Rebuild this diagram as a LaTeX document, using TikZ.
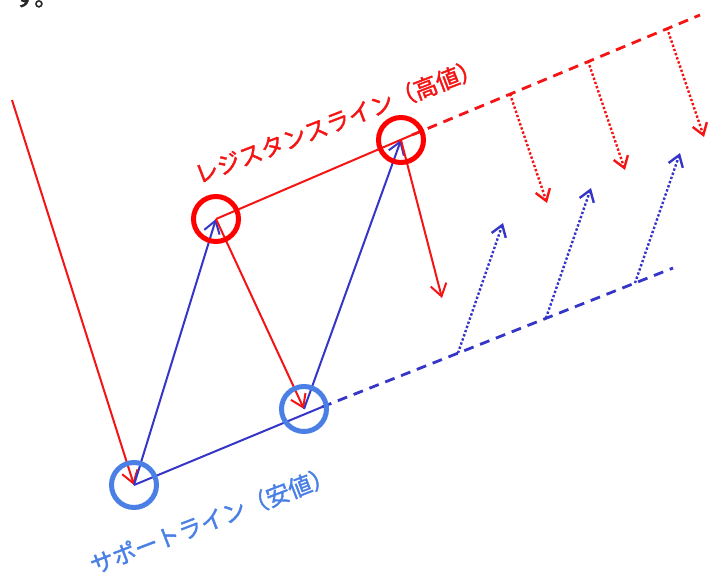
\documentclass[tikz,border=0pt]{standalone}
\usepackage{fontspec}
\newfontfamily\jpfont[FakeBold=1.6]{Noto Sans CJK JP}
\usetikzlibrary{arrows.meta, positioning, calc}
\definecolor{resred}{HTML}{F41414}
\definecolor{supblue}{HTML}{3535C8}
\definecolor{ringblue}{HTML}{4A80E6}

\begin{document}
\begin{tikzpicture}[
    x=1pt, y=-1pt,
    font=\jpfont\fontsize{23.5}{27}\selectfont,
    hiring/.style={circle, draw=red, line width=5pt, minimum size=45pt, inner sep=0pt},
    loring/.style={circle, draw=ringblue, line width=5pt, minimum size=45pt, inner sep=0pt},
    move/.style={-{Straight Barb[length=12pt, width=16pt]}, line width=2pt},
    trend/.style={line width=2pt},
    proj/.style={line width=2.8pt, dash pattern=on 10pt off 7pt},
    hint/.style={-{Straight Barb[length=11pt, width=15pt]}, line width=2.4pt, dotted}
]
\useasboundingbox (0,0) rectangle (711,576);
\clip (0,0) rectangle (711,576);

% Leftover text from the page above
\node[anchor=base west, text=black!85, inner sep=0pt] (prev) at (13,6) {す。};

% Turning points
\coordinate (start) at (12,100);
\coordinate (l1) at (134,485);
\coordinate (h1) at (216,219);
\coordinate (l2) at (304,409);
\coordinate (h2) at (401,140);
\coordinate (drop) at (442,298);

% Line ends
\coordinate (r1) at (412,135);
\coordinate (r2) at (700,15);
\coordinate (s1) at (322,407);
\coordinate (s2) at (673,268);

% Resistance and support lines
\draw[trend, resred] (h1) -- (r1);
\draw[proj, resred] (r1) -- (r2);
\draw[trend, supblue] (l1) -- (s1);
\draw[proj, supblue] (s1) -- (s2);

% Price moves
\draw[move, resred] (start) -- (l1);
\draw[move, supblue] (l1) -- (h1);
\draw[move, resred] (h1) -- (l2);
\draw[move, supblue] (l2) -- (h2);
\draw[move, resred] (h2) -- (drop);

% Rebounds off the projected lines
\foreach \n/\a/\b in {1/510/94, 2/588/61, 3/667/28}{
    \coordinate (rs\n) at (\a,\b);
    \coordinate (re\n) at ($(rs\n)+(37,109)$);
    \draw[hint, resred] (rs\n) -- (re\n);
}
\foreach \n/\a/\b in {1/458/353, 2/546/318, 3/635/283}{
    \coordinate (ss\n) at (\a,\b);
    \coordinate (se\n) at ($(ss\n)+(45,-130)$);
    \draw[hint, supblue] (ss\n) -- (se\n);
}

% Rings on highs and lows
\node[hiring] (hr1) at (h1) {};
\node[hiring] (hr2) at (h2) {};
\node[loring] (lr1) at (l1) {};
\node[loring] (lr2) at (l2) {};

% Labels
\node[text=resred, rotate=21] (restext) at (338,121) {レジスタンスライン（高値）};
\node[text=ringblue, rotate=21] (suptext) at (212,520) {サポートライン（安値）};

\end{tikzpicture}
\end{document}
